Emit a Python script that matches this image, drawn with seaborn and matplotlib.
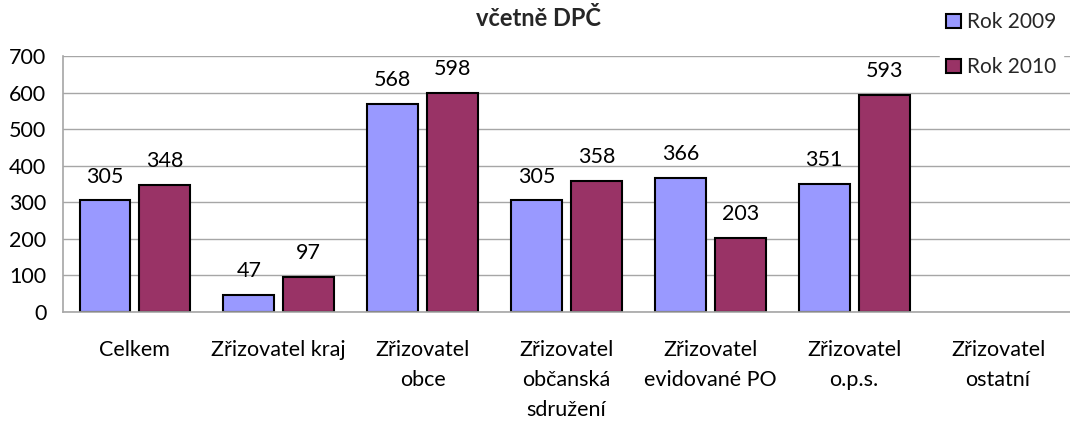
import matplotlib
matplotlib.use("Agg")
import matplotlib.pyplot as plt
import seaborn as sns
import pandas as pd
import numpy as np
from matplotlib.patches import Patch

categories = ["Celkem", "Zřizovatel kraj", "Zřizovatel\nobce", "Zřizovatel\nobčanská\nsdružení",
              "Zřizovatel\nevidované PO", "Zřizovatel\no.p.s.", "Zřizovatel\nostatní"]
series_names = ["Rok 2009", "Rok 2010"]
values_2009 = [305, 47, 568, 305, 366, 351, np.nan]
values_2010 = [348, 97, 598, 358, 203, 593, np.nan]
yticks = [0, 100, 200, 300, 400, 500, 600, 700]
title = "včetně DPČ"
colors = ["#9999FF", "#993366"]

sns.set_theme(style="white")
plt.rcParams['font.family'] = ['Lato', 'DejaVu Sans']

FS = 15.5

df = pd.DataFrame({
    "cat": categories * 2,
    "series": [series_names[0]] * len(categories) + [series_names[1]] * len(categories),
    "val": values_2009 + values_2010,
})

fig = plt.figure(figsize=(10.7, 4.21), dpi=100)
ax = fig.add_axes([63/1070, 1-312/421, 1-63/1070, (312-56)/421])

sns.barplot(data=df, x="cat", y="val", hue="series", order=categories, hue_order=series_names,
            palette=colors, width=0.833, gap=0.15, edgecolor="black", linewidth=1.5,
            saturation=1, ax=ax, legend=False)

for cont in ax.containers:
    labels = ["" if np.isnan(v) else f"{int(v)}" for v in cont.datavalues]
    ax.bar_label(cont, labels=labels, padding=10, fontsize=FS, color="black")

ax.set_ylim(0, 700)
ax.set_xlim(-0.5, len(categories) - 0.5)
ax.set_yticks(yticks)
ax.yaxis.grid(True, color="#a6a6a6", linewidth=1)
ax.set_axisbelow(True)
ax.set_xlabel("")
ax.set_ylabel("")
for s in ["top", "right"]:
    ax.spines[s].set_visible(False)
for s in ["left", "bottom"]:
    ax.spines[s].set_color("#a6a6a6")
    ax.spines[s].set_linewidth(1.2)
ax.tick_params(axis="y", labelsize=FS, length=0, pad=12, colors="black")
ax.tick_params(axis="x", labelsize=FS, length=0, pad=20, colors="black")
for lbl in ax.get_xticklabels():
    lbl.set_linespacing(1.62)
    lbl.set_verticalalignment("top")

fig.text(539/1070, 1-18/421, title, ha="center", va="center", fontsize=17, fontweight="bold")

handles = [Patch(facecolor=c, edgecolor="black", linewidth=1.5) for c in colors]
leg = fig.legend(handles, series_names, loc="upper left", bbox_to_anchor=(940/1070, 1-6/421),
                 frameon=True, fontsize=15, handlelength=0.7, handleheight=0.7,
                 handletextpad=0.3, labelspacing=1.2, borderaxespad=0, borderpad=0.3)
leg.get_frame().set_edgecolor("white")
leg.get_frame().set_facecolor("white")
leg.get_frame().set_alpha(1)

fig.savefig("out.png", dpi=100)
